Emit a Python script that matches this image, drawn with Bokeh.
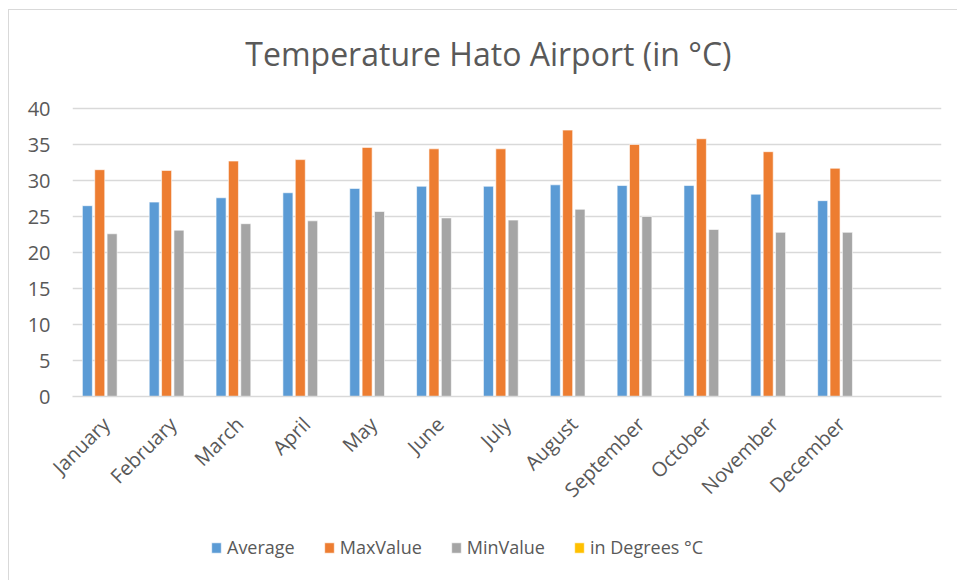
import math
from bokeh.plotting import figure
from bokeh.models import (FactorRange, Range1d, FixedTicker, ColumnDataSource,
                          Legend, LegendItem)
from bokeh.core.properties import value
from bokeh.transform import dodge
from bokeh.layouts import column
from bokeh.embed import file_html
from bokeh.resources import INLINE

months = ["January", "February", "March", "April", "May", "June", "July",
          "August", "September", "October", "November", "December", " "]
average = [26.5, 27.0, 27.6, 28.3, 28.9, 29.2, 29.2, 29.4, 29.3, 29.3, 28.1, 27.2, None]
max_value = [31.5, 31.4, 32.7, 32.9, 34.6, 34.4, 34.4, 37.0, 35.0, 35.8, 34.0, 31.7, None]
min_value = [22.6, 23.1, 24.0, 24.4, 25.7, 24.8, 24.5, 26.0, 25.0, 23.2, 22.8, 22.8, None]
in_degrees = [None] * 13
series_names = ["Average", "MaxValue", "MinValue", "in Degrees °C"]
y_ticks = [0, 5, 10, 15, 20, 25, 30, 35, 40]
chart_title = "Temperature Hato Airport (in °C)"

colors = ["#5B9BD5", "#ED7D31", "#A5A5A5", "#FFC000"]
FONT = "Open Sans"
TXT = "#595959"
GRID = "#D9D9D9"

src = ColumnDataSource(dict(
    month=months,
    s0=[float("nan") if v is None else v for v in average],
    s1=[float("nan") if v is None else v for v in max_value],
    s2=[float("nan") if v is None else v for v in min_value],
    s3=[float("nan") if v is None else v for v in in_degrees],
))

# page layout (px): figure top at 10, 40-line at 108, 0-line at 396, figure bottom 520
PX = 7.2                      # pixels per degree
ABOVE = (108 - 10) / PX       # degrees of space above 40 (title area)

x_range = FactorRange(factors=months, range_padding=0)
p = figure(width=948, height=510, output_backend="svg", toolbar_location=None,
           x_range=x_range, y_range=Range1d(0, 40 + ABOVE),
           min_border_left=63, min_border_right=16, min_border_top=0,
           min_border_bottom=124)
p.outline_line_color = None
p.background_fill_color = "white"
p.border_fill_color = "white"

offsets = [-0.2775, -0.0925, 0.0925, 0.2775]
for i in range(4):
    p.vbar(x=dodge("month", offsets[i], range=p.x_range), top="s%d" % i,
           bottom=0, width=0.15, source=src, fill_color=colors[i],
           line_color="white", line_width=0.6)

# chart title, centred over the chart area
p.text(x=dodge("x", -0.278, range=p.x_range), y="y", text="t",
       source=ColumnDataSource(dict(x=["July"], y=[40], t=[chart_title])),
       text_align="center", text_baseline="alphabetic", y_offset=-55,
       text_font=value(FONT), text_font_size=value("32px"), text_color=TXT)

p.xaxis.axis_line_color = GRID
p.xaxis.axis_line_width = 1.5
p.xaxis.major_tick_line_color = None
p.xaxis.minor_tick_line_color = None
p.xaxis.major_label_orientation = math.pi / 4
p.xaxis.major_label_text_font = FONT
p.xaxis.major_label_text_font_size = "20px"
p.xaxis.major_label_text_color = TXT
p.xaxis.major_label_standoff = 18

p.yaxis.ticker = FixedTicker(ticks=y_ticks)
p.yaxis.axis_line_color = None
p.yaxis.major_tick_line_color = None
p.yaxis.minor_tick_line_color = None
p.yaxis.major_label_text_font = FONT
p.yaxis.major_label_text_font_size = "20px"
p.yaxis.major_label_text_color = TXT
p.yaxis.major_label_standoff = 16

p.xgrid.grid_line_color = None
p.ygrid.grid_line_color = GRID
p.ygrid.grid_line_width = 1.5

# legend strip under the chart (its series renderers lie outside its view)
q = figure(width=948, height=60, output_backend="svg", toolbar_location=None,
           x_range=x_range, y_range=Range1d(1000, 1001),
           x_axis_location=None, y_axis_location=None, min_border=0)
q.outline_line_color = None
q.xgrid.visible = False
q.ygrid.visible = False
q.background_fill_color = "white"
q.border_fill_color = "white"
leg_renderers = []
for i in range(4):
    r = q.vbar(x=dodge("month", offsets[i], range=q.x_range), top="s%d" % i,
               bottom=0, width=0.15, source=src, fill_color=colors[i],
               line_color="white", line_width=0.6)
    leg_renderers.append(r)

legend = Legend(items=[LegendItem(label=series_names[i], renderers=[leg_renderers[i]])
                       for i in range(4)],
                orientation="horizontal", location=(138, 21),
                label_text_font=FONT, label_text_font_size="18px",
                label_text_color=TXT, glyph_width=12, glyph_height=13,
                label_standoff=5, spacing=28, border_line_color=None,
                background_fill_alpha=0, padding=0, margin=0)
q.add_layout(legend, "center")

layout = column(p, q, margin=(9, 0, 0, 8), spacing=0,
                styles={"border-left": "1px solid #D9D9D9",
                        "border-top": "1px solid #D9D9D9"})
open("out.html", "w").write(file_html(layout, INLINE))
